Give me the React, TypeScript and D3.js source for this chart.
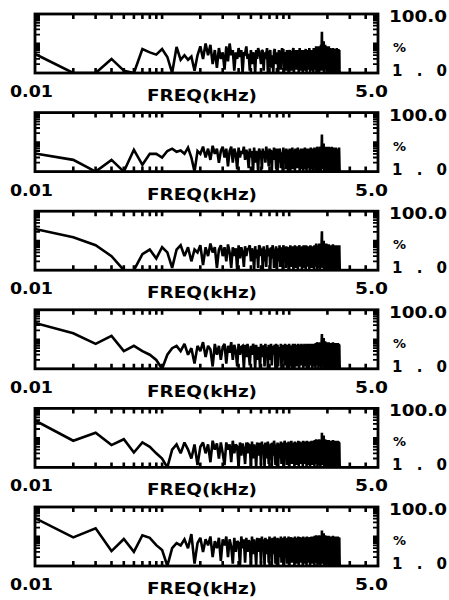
import React from 'react';
import * as d3 from 'd3';

const FREQ_MIN = 0.01;
const FREQ_MAX = 5.0;
const FREQ_STEP = 0.01;
const Y_MIN = 1;
const Y_MAX = 100;
const Y_TICK_TOP = '100.0';
const Y_TICK_BOTTOM = '1.0';
const Y_UNIT = '%';
const X_LABEL = 'FREQ(kHz)';
const X_TICK_LEFT = '0.01';
const X_TICK_RIGHT = '5.0';
const X_MINOR_TICKS = [0.02, 0.03, 0.04, 0.05, 0.06, 0.07, 0.08, 0.09, 0.1, 0.2, 0.3, 0.4, 0.5, 0.6, 0.7, 0.8, 0.9, 1, 2, 3, 4];
const Y_MINOR_TICKS = [2, 3, 4, 5, 6, 7, 8, 9, 10, 20, 30, 40, 50, 60, 70, 80, 90];

const p1 = [
  4.4, 1, 1, 3, 1.2, 1, 6.5, 5, 4.2, 6.5, 3.5, 1,
  7.6, 2.8, 4, 2.8, 3.6, 1.2, 4, 8, 3, 10, 4, 9, 2, 6, 1.5, 7, 3, 5,
  1.3, 8, 2.5, 10, 4, 6, 1.2, 5, 3, 7, 3.5, 6, 1, 5, 4.5, 8, 3, 4.5, 1.2, 6,
  2, 5, 4, 1, 6, 3, 7, 5, 4, 2, 6, 5.5, 1.2, 5, 3, 4.5, 7, 1, 2.5, 5,
  6, 1.5, 4, 3, 1, 5.5, 6.5, 2, 4.5, 3, 5, 1, 6, 4, 2, 1.3, 5, 7, 3.5, 6.5,
  1, 4.5, 5, 2.5, 1.2, 6, 3.5, 4, 1, 5, 6, 2, 5.5, 1.2, 4.5, 3, 6, 7, 1, 5,
  2, 4.5, 6, 1.3, 3, 6, 5, 2.5, 1, 4, 7, 3, 5.5, 1.2, 2, 6, 4.5, 1, 5, 3.5,
  6, 2.5, 1.2, 5, 6.5, 3, 1, 4.5, 5.5, 2, 6, 1.3, 3, 7, 4, 1, 5.5, 2.5, 6, 4.5,
  1.2, 3, 6, 5, 1, 7, 2, 5.5, 4, 1.3, 6, 3, 8, 1, 5, 6.5, 2, 1.2, 7, 4.5,
  8, 1, 5, 3, 7, 1.2, 5.5, 9, 2, 6, 25, 3, 8, 1.2, 6, 4, 12, 1, 7, 5,
  3, 9, 1.3, 6, 2, 8, 5, 1, 5.5, 7, 3, 1.2, 6, 2, 8, 4.5, 1, 5, 6.5, 2.5,
  7, 1.2, 6, 5, 3, 1, 5.5, 6.5, 2, 5, 1.3, 7, 4, 2.5, 6, 1, 5, 3, 6.5, 1.2,
  5.5, 4, 2, 6, 1, 5, 7, 1.3, 5.5, 3, 6, 1, 2, 6.5, 4.5, 1.2, 5, 6, 1.3, 1,
];

const p2 = [
  4.1, 2.5, 1, 2.5, 1, 5.5, 1.7, 4, 4, 3, 5, 6,
  4.7, 5.2, 4, 6.5, 3, 1, 5, 4, 7, 3, 6, 2.5, 7.5, 4, 6, 2, 5, 7,
  3, 6, 1.5, 5, 7, 2, 6, 4, 1.2, 6.5, 3, 5, 4, 7, 2.5, 5.5, 4, 1.3, 6, 3,
  5, 1, 6.5, 2, 5, 3.5, 1, 6, 4.5, 5, 1.2, 6, 3, 5, 2, 7, 4, 4.5, 1.5, 6,
  3, 5.5, 1, 5, 2.5, 6.5, 4, 4.5, 1.2, 6, 1, 5, 2, 6, 5, 1.3, 3, 4.5, 1, 6.5,
  2, 5, 5.5, 1.2, 6, 2.5, 4.5, 1, 5.5, 3, 6, 1, 5, 4, 2, 6.5, 1.2, 4.5, 3, 5.5,
  1, 6, 4, 2, 5, 1.3, 6.5, 2.5, 4.5, 5, 1, 5.5, 3, 6, 1.2, 4, 5, 2, 1, 6,
  4.5, 1.2, 6.5, 2, 5, 5.5, 1, 6, 2.5, 4.5, 1.3, 5.5, 3, 6, 1, 5, 4, 6.5, 1.2, 4.5,
  3, 5.5, 1, 6, 2, 5, 1.2, 6.5, 2.5, 5, 1, 6, 3, 5.5, 1.3, 7, 4, 5, 1, 6.5,
  2.5, 6, 1.2, 5.5, 7, 3, 1, 6, 2, 5.5, 18, 3, 7, 1.2, 6, 2, 9, 1, 6.5, 5,
  3, 7, 1.2, 5.5, 2, 7, 1, 6, 4, 2.5, 6.5, 1.3, 5.5, 2, 7, 1, 6, 2.5, 6.5, 4,
  1.2, 5, 3, 6, 1, 7, 2, 5.5, 4.5, 1.3, 6, 2.5, 5, 1, 6.5, 2, 5.5, 1.2, 6, 3,
  5, 1, 6.5, 4, 2, 5.5, 1.3, 6, 2.5, 5, 1, 6, 4, 2, 5.5, 1.2, 6.5, 3, 1.3, 1,
];

const p3 = [
  25, 13, 7, 3, 1, 1, 3.5, 5, 2.5, 6, 4, 1.2,
  5, 7, 3, 6, 2, 5, 4, 7, 1.5, 6, 3, 8, 4, 6, 1.2, 5, 7, 3,
  6, 2, 7.5, 4, 1.2, 6, 3, 5.5, 1, 7, 2.5, 6, 4, 1.3, 6.5, 3, 5, 5.5, 7, 2,
  5.5, 3.5, 1, 6.5, 2.5, 5, 1.2, 7, 6, 3, 5.5, 1, 6.5, 2, 5, 1.3, 7, 4, 3, 5.5,
  1, 6, 2.5, 7, 5, 1.2, 5, 3, 6.5, 1, 5.5, 4, 2, 7, 1.3, 6, 3, 5, 1, 7,
  5, 2.5, 5.5, 1.2, 6.5, 2, 6, 4, 1, 5, 3, 7, 1.3, 5.5, 6, 2.5, 6.5, 1, 6, 2,
  7, 1.2, 5, 4.5, 3, 6.5, 1, 5.5, 2.5, 7, 6, 1.3, 6, 2, 5, 1, 6.5, 4, 3, 7,
  1.2, 5.5, 2, 6, 1, 7, 5, 2.5, 5, 1.3, 6.5, 3, 6, 1, 5.5, 2, 7, 4.5, 1.2, 6,
  2.5, 5.5, 1.2, 6.5, 3, 6, 1, 7, 5, 2, 5.5, 1.3, 8, 2.5, 6, 1, 7, 4, 3, 6.5,
  1.2, 8, 2, 6, 1, 7.5, 2.5, 6.5, 1.3, 9, 21, 3, 7, 1.2, 8, 2.5, 10, 1, 7.5, 5,
  3, 8, 1.3, 6.5, 2, 8, 1, 7, 4.5, 2.5, 6, 1.2, 6.5, 2, 7.5, 1, 6, 5, 3, 7,
  1.3, 6.5, 2.5, 6, 1, 7, 4, 2, 6.5, 1.2, 7.5, 3, 6, 1, 6.5, 5, 2, 7, 1.3, 6,
  2.5, 6.5, 1, 7, 4.5, 2, 6, 1.2, 6.5, 3, 7, 1, 6, 4, 2, 6.5, 1.3, 7, 2.5, 1,
];

const p4 = [
  36, 16, 7, 13, 4, 6, 4, 3, 2, 1, 3, 5,
  6, 4, 7, 3, 5, 1.5, 6, 4, 8, 2.5, 6, 4.5, 1.2, 7, 3, 6, 2, 5.5,
  7, 1.5, 6, 3.5, 8, 2, 6.5, 4, 1.2, 7, 3, 5.5, 6, 1, 6.5, 2.5, 7, 3.5, 1.3, 6,
  3, 7, 5, 1, 6.5, 2, 5.5, 4, 1, 7, 2.5, 6, 5.5, 1.2, 7, 3, 5.5, 1, 6.5, 4,
  2, 7, 1.3, 6, 3, 5, 6.5, 1, 7, 2.5, 6.5, 1.2, 5.5, 4, 3, 7, 1, 6, 2, 6.5,
  5, 1.3, 7, 3, 5.5, 1, 6.5, 4, 2, 7, 1.2, 6, 2.5, 5.5, 6, 1, 7, 3, 6.5, 1,
  7, 4, 2, 6, 1.2, 6.5, 3, 7, 5, 1, 5.5, 2.5, 6.5, 1.3, 7, 4, 2, 6, 1, 6.5,
  3, 7, 5.5, 1.2, 6, 2, 6.5, 1, 7, 4, 2.5, 6, 1, 7, 3, 6.5, 1.3, 6, 5, 2,
  7, 1, 6.5, 2.5, 6, 1.2, 7, 5, 3, 6.5, 1, 7.5, 2, 6, 1.3, 8, 4, 2.5, 6.5, 1,
  7, 3, 7.5, 1.2, 8, 5, 2, 6.5, 1, 8, 15, 2.5, 7, 1.3, 9, 3, 11, 1, 8, 5,
  3, 8.5, 1.3, 7, 2, 8, 1, 7.5, 5, 2.5, 7, 1.2, 7, 2, 8, 1, 6.5, 5, 3, 7.5,
  1.3, 7, 2.5, 6.5, 1, 7.5, 4, 2, 7, 1.2, 8, 3, 6.5, 1, 7, 5, 2, 7.5, 1.3, 6.5,
  2.5, 7, 1, 7.5, 4.5, 2, 6.5, 1.2, 7, 3, 7.5, 1, 6.5, 4, 2, 7, 1.3, 6.5, 2, 1,
];

const p5 = [
  39, 8, 15, 5.7, 9, 3.2, 7, 5, 3, 2, 1, 4,
  6, 3, 7, 4, 2, 6, 1.2, 5, 7, 3, 6, 1.5, 8, 4, 6.5, 2, 7, 3,
  1.2, 7, 4, 6, 1.5, 8, 3, 6, 5, 1, 7, 2.5, 6.5, 4, 1.3, 7, 3, 6, 5.5, 1,
  7.5, 2, 6, 4, 1, 7, 2.5, 6.5, 6, 1.2, 7.5, 3, 6, 1, 7, 5, 2, 7.5, 1.3, 6,
  3, 6.5, 1, 7, 2.5, 8, 5, 1.2, 6, 3, 7, 1, 6.5, 5, 2, 7.5, 1.3, 7, 3, 6,
  1, 8, 5.5, 2.5, 6.5, 1.2, 7, 2, 7.5, 1, 6, 4, 3, 8, 1.3, 6.5, 2.5, 7, 5.5, 1,
  7.5, 2, 6.5, 1.2, 7, 5, 3, 8, 1, 6.5, 2.5, 7.5, 6, 1.3, 7, 2, 6.5, 1, 8, 4,
  3, 7.5, 1.3, 7, 2, 6.5, 1, 8, 5.5, 2.5, 7, 1.2, 6.5, 3, 7.5, 1, 6, 5, 2, 8,
  1.2, 7, 2.5, 8, 5, 3, 7, 1, 8.5, 2, 7, 1.3, 9, 5.5, 2.5, 7.5, 1, 8, 3, 8.5,
  1.2, 9, 2, 7, 5, 1, 8.5, 2.5, 7.5, 1.3, 15, 3, 10, 1.2, 9, 2.5, 12, 1, 8.5, 5,
  3, 9, 1.3, 7.5, 2, 8.5, 1, 8, 5.5, 2.5, 7.5, 1.2, 7.5, 2, 8.5, 1, 7, 5, 3, 8,
  1.3, 7.5, 2.5, 7, 1, 8, 5, 2, 7.5, 1.2, 8.5, 3, 7, 1, 7.5, 5.5, 2, 8, 1.3, 7,
  2.5, 7.5, 1, 8, 5, 2, 7, 1.2, 7.5, 3, 8, 1, 7, 5, 2, 7.5, 1.3, 7, 2, 1,
];

const p6 = [
  42, 9.3, 19, 3.2, 8.2, 3, 11, 9, 5.1, 3.5, 1, 4,
  6, 5, 8, 4, 12, 1.2, 6, 9, 3, 8, 5, 10, 2, 7, 4, 9, 1.5, 8,
  5, 10, 2, 8, 4.5, 1.2, 9, 3, 7, 6, 1, 10, 4, 8, 1.3, 9, 3, 7.5, 6, 1,
  10, 2.5, 8, 4, 1, 9, 3, 8.5, 7, 1.2, 10, 3.5, 8, 1, 9, 6, 2.5, 8, 1.3, 10,
  3, 8.5, 1, 9, 6, 2.5, 10, 1.2, 8, 3, 9, 1, 8.5, 6, 2, 10, 1.3, 9, 3, 8,
  1, 10, 6.5, 2.5, 8.5, 1.2, 9, 2, 10, 1, 8, 5, 3, 9.5, 1.3, 8.5, 2.5, 9, 7, 1,
  10, 2, 8.5, 1.2, 9, 6, 3, 10, 1, 8.5, 2.5, 9.5, 7, 1.3, 9, 2, 8.5, 1, 10, 5,
  3, 9, 1.2, 8.5, 2, 9.5, 1, 10, 6.5, 2.5, 8.5, 1.3, 9.5, 3, 9, 1, 8.5, 6, 2, 10,
  1.2, 9, 2.5, 10, 6, 3, 9, 1, 10.5, 2, 9, 1.3, 11, 6.5, 2.5, 9.5, 1, 10, 3, 10.5,
  1.2, 11, 2, 9, 6, 1, 10.5, 2.5, 9.5, 1.3, 16, 3, 12, 1.2, 11, 2.5, 13, 1, 10.5, 6,
  3, 11, 1.3, 9.5, 2, 10.5, 1, 10, 6.5, 2.5, 9.5, 1.2, 9.5, 2, 10.5, 1, 9, 6, 3, 10,
  1.3, 9.5, 2.5, 9, 1, 10, 6, 2, 9.5, 1.2, 10.5, 3, 9, 1, 9.5, 6.5, 2, 10, 1.3, 9,
  2.5, 9.5, 1, 10, 6, 2, 9, 1.2, 9.5, 3, 10, 1, 9, 6, 2, 9.5, 1.3, 9, 2, 1,
];

const SERIES = [p1, p2, p3, p4, p5, p6];

const W = 449;
const H = 600;
const PLOT_LEFT = 35;
const PLOT_RIGHT = 378;
const FIRST_TOP = 14;
const PANEL_STEP = 98.6;
const PANEL_H = 59;
const FONT = "'DejaVu Sans', 'Liberation Sans', sans-serif";

function Panel({ data, top }: { data: number[]; top: number }) {
  const bottom = top + PANEL_H;
  const x = d3.scaleLog().domain([FREQ_MIN, FREQ_MAX]).range([PLOT_LEFT, PLOT_RIGHT]);
  const y = d3.scaleLog().domain([Y_MIN, Y_MAX]).range([bottom, top]).clamp(true);
  const pts = data.map((v, i) => [FREQ_STEP * (i + 1), v] as [number, number]);
  const line = d3
    .line<[number, number]>()
    .x((d) => x(d[0]))
    .y((d) => y(d[1]));
  const tl = 5;
  const cid = `clip-${Math.round(top)}`;
  let tickD = '';
  X_MINOR_TICKS.forEach((t) => {
    const xx = x(t).toFixed(1);
    tickD += `M${xx},${top}V${top + tl}M${xx},${bottom}V${bottom - tl}`;
  });
  let yTickD = '';
  Y_MINOR_TICKS.forEach((t) => {
    const yy = y(t).toFixed(1);
    yTickD += `M${PLOT_LEFT},${yy}H${PLOT_LEFT + tl}M${PLOT_RIGHT},${yy}H${PLOT_RIGHT - tl}`;
  });
  return (
    <g>
      <defs>
        <clipPath id={cid}>
          <rect x={PLOT_LEFT} y={top} width={PLOT_RIGHT - PLOT_LEFT} height={PANEL_H} />
        </clipPath>
      </defs>
      <path
        d={line(pts) || ''}
        fill="none"
        stroke="#000"
        strokeWidth={2.6}
        strokeLinejoin="miter"
        strokeMiterlimit={2.5}
        clipPath={`url(#${cid})`}
      />
      <path d={tickD} fill="none" stroke="#000" strokeWidth={2.6} />
      <path d={yTickD} fill="none" stroke="#000" strokeWidth={1.8} />
      <rect
        x={PLOT_LEFT}
        y={top}
        width={PLOT_RIGHT - PLOT_LEFT}
        height={PANEL_H}
        fill="none"
        stroke="#000"
        strokeWidth={2.8}
      />
      <g fontFamily={FONT} fontWeight="bold" fill="#000">
        <text x={389} y={top + 8} fontSize={15} textLength={58} lengthAdjust="spacingAndGlyphs">
          {Y_TICK_TOP}
        </text>
        <text x={393} y={top + 38} fontSize={13}>
          {Y_UNIT}
        </text>
        <text x={392} y={top + 62} fontSize={15} textLength={55} lengthAdjust="spacing">
          {Y_TICK_BOTTOM}
        </text>
        <text x={10} y={top + 83} fontSize={15} textLength={43} lengthAdjust="spacingAndGlyphs">
          {X_TICK_LEFT}
        </text>
        <text x={147} y={top + 87} fontSize={15} textLength={110} lengthAdjust="spacingAndGlyphs">
          {X_LABEL}
        </text>
        <text x={355} y={top + 83} fontSize={15} textLength={33} lengthAdjust="spacingAndGlyphs">
          {X_TICK_RIGHT}
        </text>
      </g>
    </g>
  );
}

export default function App() {
  return (
    <svg
      width={W}
      height={H}
      viewBox={`0 0 ${W} ${H}`}
      style={{ position: 'absolute', left: 0, top: 0, background: '#fff' }}
    >
      <rect x={0} y={0} width={W} height={H} fill="#fff" />
      {SERIES.map((s, i) => (
        <Panel key={i} data={s} top={FIRST_TOP + PANEL_STEP * i} />
      ))}
    </svg>
  );
}
